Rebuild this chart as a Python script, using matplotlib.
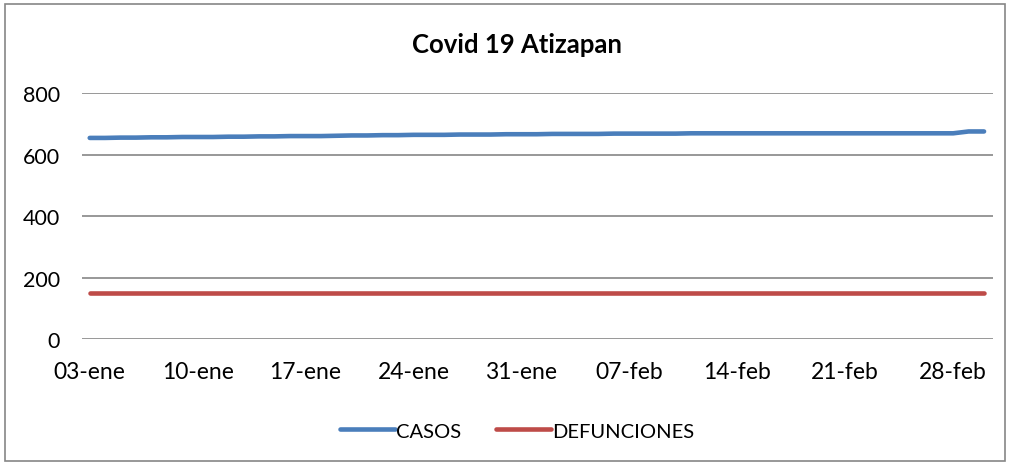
import datetime

import matplotlib.pyplot as plt
from matplotlib.patches import Rectangle

# fechas 03-ene a 02-mar
start = datetime.datetime(2021, 1, 3)
fechas = [start + datetime.timedelta(days=i) for i in range(59)]

casos = [654, 654, 655, 655, 656, 656, 657,
         657, 657, 658, 658, 659, 659, 660,
         660, 660, 661, 662, 662, 663, 663,
         664, 664, 664, 665, 665, 665, 666,
         666, 666, 667, 667, 667, 667, 668,
         668, 668, 668, 668, 669, 669, 669,
         669, 669, 669, 669, 669, 669, 669,
         669, 669, 669, 669, 669, 669, 669,
         669, 675, 675]
defunciones = [149] * 59

tick_labels = ["03-ene", "10-ene", "17-ene", "24-ene", "31-ene",
               "07-feb", "14-feb", "21-feb", "28-feb"]

plt.rcParams['font.family'] = ['Lato', 'DejaVu Sans']

fig = plt.figure(figsize=(10.10, 4.64), dpi=100)
ax = fig.add_axes([0.0812, 0.267, 0.902, 0.5304])

ax.plot(fechas, casos, color='#4A7EBB', lw=3.3, solid_capstyle='round', label='CASOS')
ax.plot(fechas, defunciones, color='#BE4B48', lw=3.3, solid_capstyle='round', label='DEFUNCIONES')

half = datetime.timedelta(hours=12)
ax.set_xlim(fechas[0] - half, fechas[-1] + datetime.timedelta(hours=14))
ax.set_ylim(0, 800)
ax.set_yticks([0, 200, 400, 600, 800])
ax.set_xticks(fechas[::7])
ax.set_xticklabels(tick_labels)
ax.tick_params(axis='both', length=0, colors='black')
ax.tick_params(axis='x', pad=16, labelsize=16.5)
ax.tick_params(axis='y', pad=16, labelsize=15.5)
ax.grid(axis='y', color='#868686', lw=1.2)
ax.set_axisbelow(True)
for s in ax.spines.values():
    s.set_visible(False)

fig.text(0.512, 0.903, 'Covid 19 Atizapan', ha='center', va='center',
         fontsize=18.5, fontweight='bold')

fig.legend(loc='center', bbox_to_anchor=(0.512, 0.069), ncol=2, frameon=False,
           fontsize=14.5, handlelength=2.75, handletextpad=0.05, columnspacing=1.7)

fig.patches.append(Rectangle((0.005, 0.005), 0.99, 0.985, transform=fig.transFigure,
                             fill=False, edgecolor='#868686', lw=1.2))

fig.savefig('out.png', dpi=100)
